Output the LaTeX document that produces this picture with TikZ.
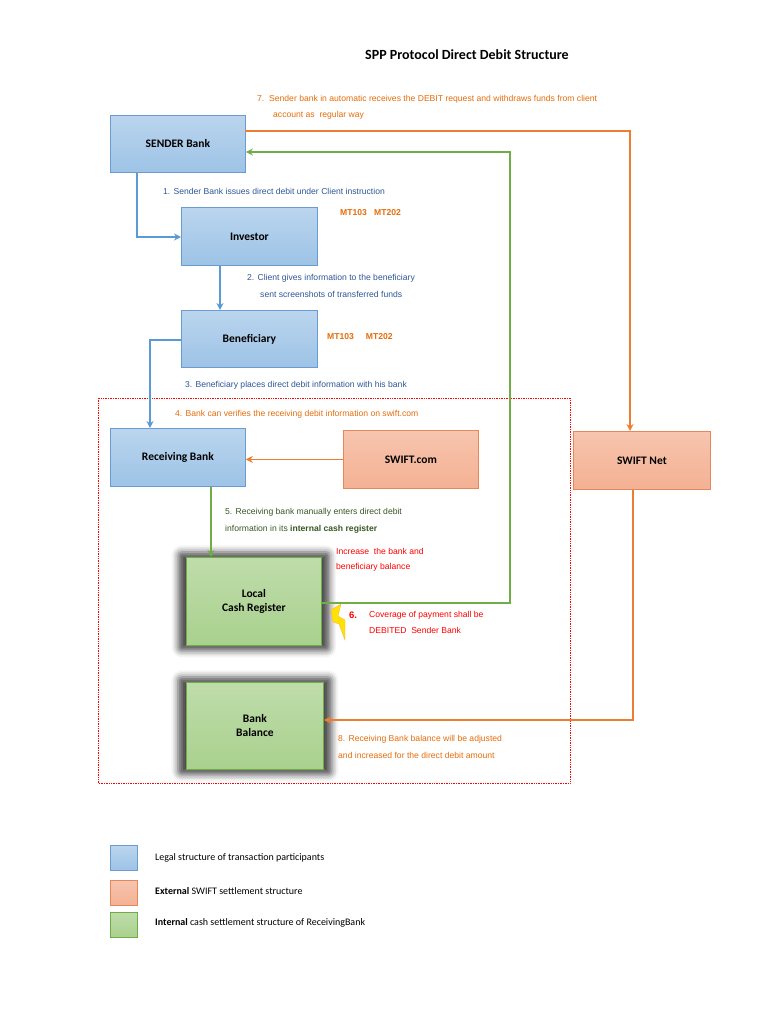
\documentclass[tikz,border=0pt]{standalone}
\usepackage{fontspec}
\setmainfont{Liberation Sans}
\newfontfamily\carl{Carlito}
\usetikzlibrary{arrows.meta,shadows.blur}
\definecolor{bfill}{HTML}{9DC3E6}
\definecolor{bdraw}{HTML}{6A9BD1}
\definecolor{ofill}{HTML}{F4B193}
\definecolor{odraw}{HTML}{E5875B}
\definecolor{gfill}{HTML}{A9D18E}
\definecolor{gdraw}{HTML}{70AD47}
\definecolor{barr}{HTML}{5B9BD5}
\definecolor{oarr}{HTML}{ED7D31}
\definecolor{garr}{HTML}{70AD47}
\definecolor{btxt}{HTML}{2F5597}
\definecolor{gtxt}{HTML}{375623}
\definecolor{otxt}{HTML}{E46C0A}
\begin{document}
\begin{tikzpicture}[x=1pt,y=-1pt,
  box/.style={draw, line width=0.8pt, inner sep=0pt, anchor=north west, font=\carl\bfseries\fontsize{11.5}{14}\selectfont, align=center},
  blue box/.style={box, draw=bdraw, top color=bfill!70!white, bottom color=bfill},
  orange box/.style={box, draw=odraw, top color=ofill!75!white, bottom color=ofill},
  green box/.style={box, draw=gdraw, top color=gfill!75!white, bottom color=gfill, blur shadow={shadow xshift=0pt, shadow yshift=0pt, shadow blur radius=6pt, shadow blur extra rounding=3pt, shadow opacity=70, shadow scale=1.12}},
  arr/.style={line width=1.6pt, -{Stealth[length=7pt,width=7pt]}},
  lbl/.style={anchor=west, font=\fontsize{8.6}{10}\selectfont, inner sep=0pt},
  leg/.style={anchor=west, font=\carl\fontsize{10}{12}\selectfont, inner sep=0pt}]
\useasboundingbox (0,0) rectangle (768,1024);
\node (title) at (467,55) {\carl\bfseries\fontsize{14}{16}\selectfont SPP Protocol Direct Debit Structure};
\draw[red, densely dotted, line width=0.7pt] (98,398) rectangle (570,783);
\node[blue box, minimum width=135pt, minimum height=57pt] (sender) at (110,115) {SENDER Bank};
\node[blue box, minimum width=136pt, minimum height=58pt] (inv) at (181,207) {Investor};
\node[blue box, minimum width=136pt, minimum height=57pt] (ben) at (181,310) {Beneficiary};
\node[blue box, minimum width=135pt, minimum height=58pt] (recv) at (110,428) {Receiving Bank};
\node[orange box, minimum width=135pt, minimum height=58pt] (swc) at (343,430) {SWIFT.com};
\node[orange box, minimum width=137pt, minimum height=58pt] (swn) at (573,431) {SWIFT Net};
\node[green box, minimum width=135pt, minimum height=88pt] (lcr) at (186,557) {Local\\Cash Register};
\node[green box, minimum width=137pt, minimum height=87pt] (bb) at (186,682) {Bank\\Balance};
% arrows
\coordinate (c1) at (137,237);
\draw[arr, barr] (sender.south west -| 137,0) -- (c1) -- (inv.west |- c1);
\draw[arr, barr] (inv.south west -| 220,0) -- (ben.north west -| 220,0);
\coordinate (c2) at (150,340);
\draw[arr, barr] (ben.west |- c2) -- (c2) -- (recv.north west -| 150,0);
\draw[arr, oarr] (swc.west) -- (recv.east |- swc.west);
\draw[arr, garr] (recv.south west -| 211,0) -- (lcr.north west -| 211,0);
\coordinate (g1) at (510,603); \coordinate (g2) at (510,152);
\draw[arr, garr] (lcr.east |- g1) -- (g1) -- (g2) -- (sender.east |- g2);
\coordinate (o0) at (245,131); \coordinate (o1) at (630,131);
\draw[arr, oarr] (o0) -- (o1) -- (swn.north west -| o1);
\coordinate (o2) at (633,720);
\draw[arr, oarr] (swn.south west -| o2) -- (o2) -- (bb.east |- o2);
% labels
\node[lbl, text=otxt] (t7) at (257,99) {7.\ \ Sender bank in automatic receives the DEBIT request and withdraws funds from client};
\node[lbl, text=otxt] (t7b) at (273,115) {account as\ \ regular way};
\node[lbl, text=btxt] (t1) at (163,191) {1. Sender Bank issues direct debit under Client instruction};
\node[lbl, text=otxt, font=\bfseries\fontsize{8.6}{10}\selectfont] (m1) at (340,213) {MT103\ \ \ MT202};
\node[lbl, text=otxt, font=\bfseries\fontsize{8.6}{10}\selectfont] (m2) at (327,337) {MT103\ \ \ \ \ MT202};
\node[lbl, text=btxt] (t2) at (247,278) {2. Client gives information to the beneficiary};
\node[lbl, text=btxt] (t2b) at (260,294) {sent screenshots of transferred funds};
\node[lbl, text=btxt] (t3) at (185,385) {3. Beneficiary places direct debit information with his bank};
\node[lbl, text=otxt] (t4) at (175,414) {4. Bank can verifies the receiving debit information on swift.com};
\node[lbl, text=gtxt] (t5) at (225,512) {5. Receiving bank manually enters direct debit};
\node[lbl, text=gtxt] (t5b) at (225,529) {information in its \textbf{internal cash register}};
\node[lbl, text=red] (ti) at (336,551) {Increase\ \ the bank and};
\node[lbl, text=red] (tib) at (336,567) {beneficiary balance};
\node[lbl, text=red, font=\bfseries\fontsize{9.5}{11}\selectfont] (t6n) at (349,615) {6.};
\node[lbl, text=red] (t6) at (369,615) {Coverage of payment shall be};
\node[lbl, text=red] (t6b) at (369,630) {DEBITED\ \ Sender Bank};
\node[lbl, text=otxt] (t8) at (338,739) {8. Receiving Bank balance will be adjusted};
\node[lbl, text=otxt] (t8b) at (338,755) {and increased for the direct debit amount};
% lightning
\fill[yellow!85!orange, draw=orange!70, line width=0.3pt] (331,610) -- (341,604) -- (338,616) -- (345,620) -- (345,640) -- (339,624) -- (333,622) -- cycle;
% legend
\node[blue box, minimum width=27pt, minimum height=25pt] (l1) at (110,845) {};
\node[orange box, minimum width=27pt, minimum height=25pt] (l2) at (110,880) {};
\node[box, draw=gdraw, top color=gfill!75!white, bottom color=gfill, minimum width=27pt, minimum height=25pt] (l3) at (110,912) {};
\node[leg] (lt1) at (155,858) {Legal structure of transaction participants};
\node[leg] (lt2) at (155,891) {\textbf{External} SWIFT settlement structure};
\node[leg] (lt3) at (155,923) {\textbf{Internal} cash settlement structure of ReceivingBank};
\end{tikzpicture}
\end{document}
